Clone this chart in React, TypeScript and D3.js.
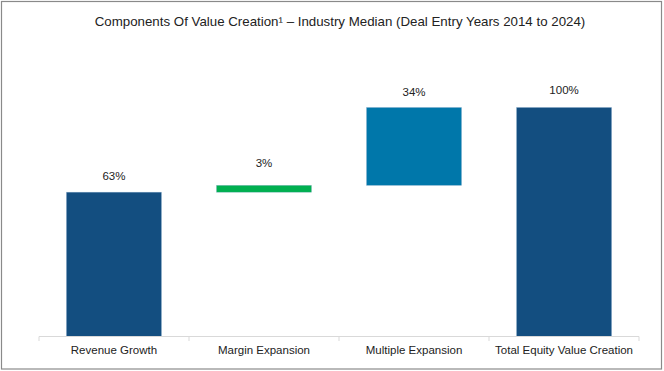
import React from "react";
import * as d3 from "d3";

const categories = ["Revenue Growth", "Margin Expansion", "Multiple Expansion", "Total Equity Value Creation"];
const values = [63, 3, 34, 100];
const isTotal = [false, false, false, true];
const labels = ["63%", "3%", "34%", "100%"];
const colors = ["#134e80", "#00b050", "#0077aa", "#134e80"];
const labelGap = [12, 18, 12, 14];

const W = 664;
const H = 371;

export default function App() {
  const x = d3.scaleBand<string>().domain(categories).range([39, 639]).paddingInner(0.367).paddingOuter(0.183);
  const y = d3.scaleLinear().domain([0, 100]).range([336.5, 107.5]);

  let cum = 0;
  const bars = categories.map((c, i) => {
    let lo: number, hi: number;
    if (isTotal[i]) {
      lo = 0;
      hi = values[i];
    } else {
      lo = cum;
      hi = cum + values[i];
      cum = hi;
    }
    return { c, lo, hi, i };
  });

  const boundaries = d3.range(categories.length + 1).map((k) => 39 + k * (600 / categories.length));

  return (
    <div style={{ position: "fixed", left: 0, top: 0, width: W, height: H, background: "#fff" }}>
      <svg width={W} height={H} style={{ display: "block", fontFamily: "'Liberation Sans', Arial, sans-serif" }}>
        <rect x={0} y={0} width={W} height={H} fill="#fff" />
        <rect x={1.5} y={1.5} width={660} height={367.5} fill="none" stroke="#8a8a8a" strokeWidth={1.2} />
        <text x={340} y={25.5} textAnchor="middle" fontSize={13.3} fill="#222">
          Components Of Value Creation¹ – Industry Median (Deal Entry Years 2014 to 2024)
        </text>
        {bars.map((b) => (
          <g key={b.c}>
            <rect
              x={x(b.c)!}
              y={y(b.hi)}
              width={x.bandwidth()}
              height={y(b.lo) - y(b.hi)}
              fill={colors[b.i]}
              stroke="#7fa6c8"
              strokeOpacity={0.5}
              strokeWidth={0.6}
            />
            <text
              x={x(b.c)! + x.bandwidth() / 2}
              y={y(b.hi) - labelGap[b.i]}
              textAnchor="middle"
              fontSize={11.5}
              fill="#222"
            >
              {labels[b.i]}
            </text>
            <text x={x(b.c)! + x.bandwidth() / 2} y={353.5} textAnchor="middle" fontSize={11.5} fill="#222">
              {b.c}
            </text>
          </g>
        ))}
        <line x1={39} x2={639} y1={336.5} y2={336.5} stroke="#d9d9d9" strokeWidth={1} />
        {boundaries.map((bx, k) => (
          <line key={k} x1={bx} x2={bx} y1={336.5} y2={341} stroke="#d9d9d9" strokeWidth={1} />
        ))}
      </svg>
    </div>
  );
}
